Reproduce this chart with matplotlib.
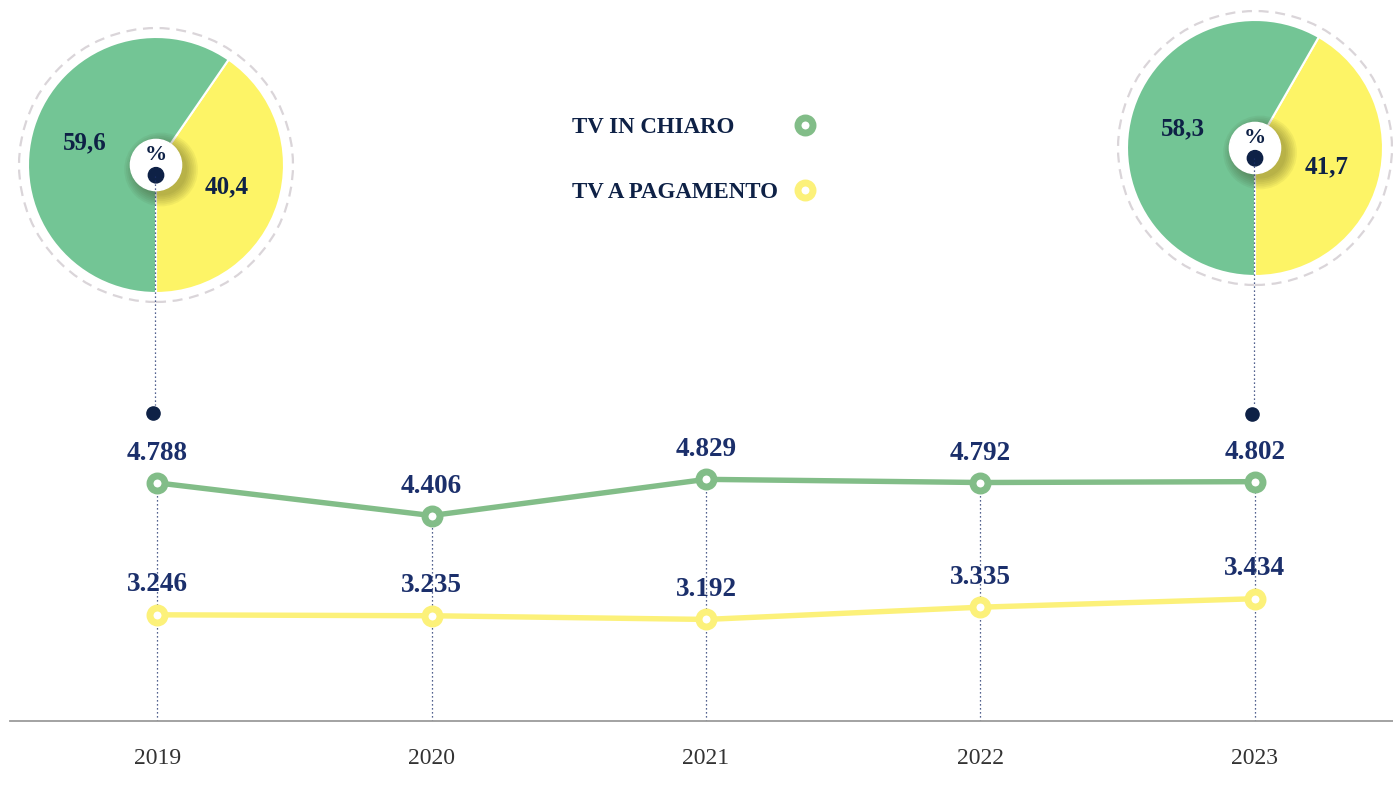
import matplotlib.pyplot as plt
from matplotlib.lines import Line2D
from matplotlib.patches import Circle

# Dati
anni = ['2019', '2020', '2021', '2022', '2023']
tv_chiaro = [4788, 4406, 4829, 4792, 4802]
tv_pagamento = [3246, 3235, 3192, 3335, 3434]

serie_nomi = ['TV IN CHIARO', 'TV A PAGAMENTO']

# quote % (pagamento, chiaro)
quota_2019 = [40.4, 59.6]
quota_2023 = [41.7, 58.3]

# Colori
VERDE = '#82BD88'
GIALLO = '#FCF17A'
VERDE_TORTA = '#73C595'
GIALLO_TORTA = '#FDF466'
BLU = '#1B2F6B'
BLU_SCURO = '#0E2146'
GRIGIO = '#9B9B9B'

W, H = 1393, 790
plt.rcParams['font.family'] = ['Liberation Serif', 'DejaVu Serif']

fig = plt.figure(figsize=(W / 100, H / 100), dpi=100)


def fx(px):
    return px / W


def fy(py):
    return 1 - py / H


def formato(v):
    return f'{v:,}'.replace(',', '.')


## Grafico a linee ##
ax = fig.add_axes([fx(10), fy(721), fx(1393) - fx(10), fy(380) - fy(721)])
x = list(range(len(anni)))
ax.set_xlim(-0.536, 4.503)
ax.set_ylim(2005, 5990)

ax.vlines(x, 2005, tv_chiaro, colors=BLU, linestyles=(0, (1, 2.2)), lw=0.9, zorder=1)

ax.plot(x, tv_chiaro, color=VERDE, lw=3.9, marker='o', ms=10.8, mew=5,
        mfc='white', mec=VERDE, zorder=3)
ax.plot(x, tv_pagamento, color=GIALLO, lw=3.9, marker='o', ms=10.8, mew=5,
        mfc='white', mec=GIALLO, zorder=3)

for xi, v in zip(x, tv_chiaro):
    ax.annotate(formato(v), (xi, v), xytext=(0, 16.5), textcoords='offset points',
                ha='center', va='baseline', fontsize=19.5, fontweight='bold', color=BLU, zorder=4)
for xi, v in zip(x, tv_pagamento):
    ax.annotate(formato(v), (xi, v), xytext=(0, 17), textcoords='offset points',
                ha='center', va='baseline', fontsize=19.5, fontweight='bold', color=BLU, zorder=4)

for s in ['top', 'left', 'right']:
    ax.spines[s].set_visible(False)
ax.spines['bottom'].set_color(GRIGIO)
ax.spines['bottom'].set_linewidth(1.3)
ax.set_yticks([])
ax.set_xticks(x)
ax.set_xticklabels(anni)
ax.tick_params(axis='x', length=0, pad=19.5, labelsize=17, labelcolor='#333333')


## Torte ##
def torta(cx, cy, valori):
    r = 128
    half = 1.12 * r
    pa = fig.add_axes([fx(cx - half), fy(cy + half), 2 * half / W, 2 * half / H])
    pa.pie(valori, colors=[GIALLO_TORTA, VERDE_TORTA], startangle=-90, counterclock=True,
           radius=1, wedgeprops=dict(edgecolor='white', linewidth=1.5),
           autopct=lambda p: f'{p:.1f}'.replace('.', ','), pctdistance=0.58,
           textprops=dict(fontsize=18, fontweight='bold', color=BLU_SCURO))
    pa.set_xlim(-1.12, 1.12)
    pa.set_ylim(-1.12, 1.12)
    pa.axis('off')
    pa.add_patch(Circle((0, 0), 1.07, fill=False, ec='#DAD5D9', lw=1.6,
                        ls=(0, (4.5, 3)), clip_on=False))
    # ombra del cerchio centrale
    for i in range(7, 0, -1):
        pa.add_patch(Circle((0.04, -0.035), 0.19 + 0.014 * i, color='#333211',
                            alpha=0.055, lw=0, zorder=5))
    pa.add_patch(Circle((0, 0), 0.2, color='white', zorder=6))
    pa.text(0, 0.075, '%', ha='center', va='center', fontsize=16, fontweight='bold',
            color=BLU_SCURO, zorder=7)
    pa.add_patch(Circle((0, -0.08), 0.06, color=BLU_SCURO, zorder=7))


torta(156, 165, quota_2019)
torta(1255, 148, quota_2023)

# collegamenti torta -> punto
for (lx, y0, y1, dx, dy) in [(155, 176, 405, 153, 413), (1254, 158, 405, 1252, 414)]:
    fig.add_artist(Line2D([fx(lx), fx(lx)], [fy(y0), fy(y1)], transform=fig.transFigure,
                          color=BLU, lw=0.9, ls=(0, (1, 2.2))))
    fig.add_artist(Line2D([fx(dx)], [fy(dy)], transform=fig.transFigure, marker='o',
                          ms=9.5, color=BLU_SCURO, lw=0))

## Legenda ##
for nome, col, py in zip(serie_nomi, [VERDE, GIALLO], [125, 190]):
    fig.text(fx(572), fy(py + 8), nome, ha='left', va='baseline', fontsize=16.5,
             fontweight='bold', color=BLU_SCURO)
    fig.add_artist(Line2D([fx(805)], [fy(py)], transform=fig.transFigure, marker='o',
                          ms=10.8, mew=5, mfc='white', mec=col, lw=0))

fig.savefig('out.png', dpi=100)
